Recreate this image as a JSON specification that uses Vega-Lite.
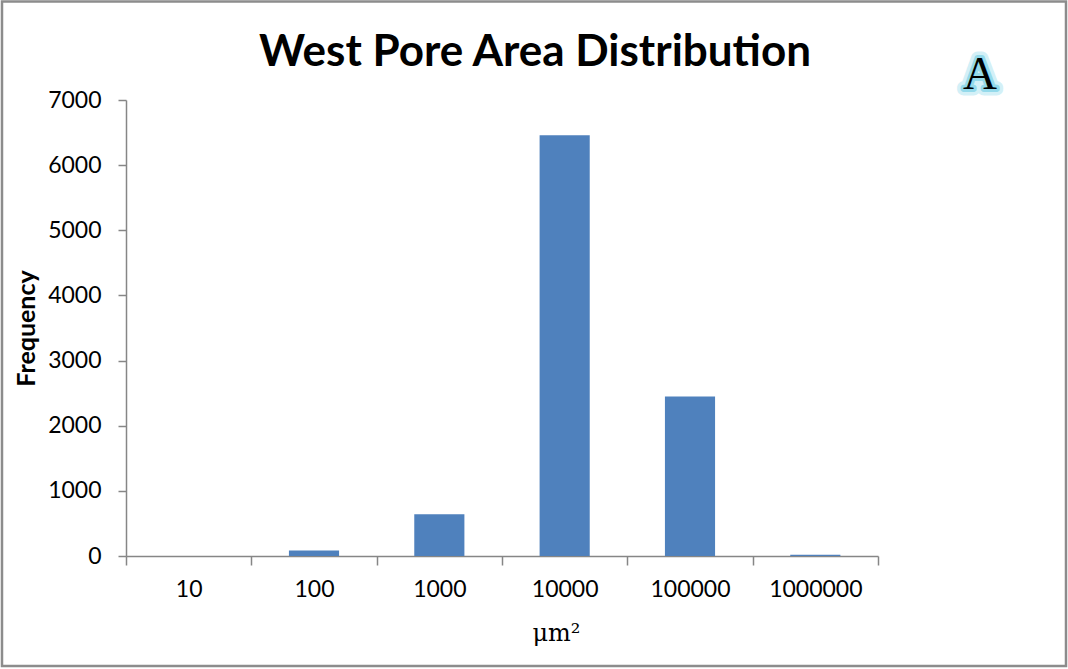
{
  "$schema": "https://vega.github.io/schema/vega-lite/v6.json",
  "width": 752,
  "height": 456,
  "autosize": {"type": "none"},
  "padding": {"left": 126, "top": 100, "right": 190, "bottom": 113},
  "background": "white",
  "config": {
    "view": {"stroke": null},
    "font": "Lato"
  },
  "title": {
    "text": "West Pore Area Distribution",
    "font": "Lato",
    "fontSize": 44,
    "fontWeight": "bold",
    "color": "black",
    "anchor": "middle",
    "baseline": "alphabetic",
    "dx": 33,
    "offset": -110
  },
  "data": {
    "values": [
      {"area": "10", "frequency": 0},
      {"area": "100", "frequency": 85},
      {"area": "1000", "frequency": 640},
      {"area": "10000", "frequency": 6460},
      {"area": "100000", "frequency": 2450},
      {"area": "1000000", "frequency": 20}
    ]
  },
  "layer": [
    {
      "mark": {"type": "bar", "color": "#4f81bd", "width": {"band": 0.4}},
      "encoding": {
        "x": {
          "field": "area",
          "type": "ordinal",
          "sort": null,
          "scale": {"paddingInner": 0, "paddingOuter": 0},
          "axis": {
            "title": "μm²",
            "titleFont": "DejaVu Serif",
            "titleFontSize": 24,
            "titleFontWeight": "normal",
            "titleColor": "black",
            "titleX": 430,
            "titleY": 84,
            "titleAlign": "center",
            "titleBaseline": "alphabetic",
            "labelAngle": 0,
            "labelFont": "Lato",
            "labelFontSize": 23,
            "labelColor": "black",
            "labelPadding": 13,
            "tickBand": "extent",
            "tickSize": 9,
            "tickColor": "#868686",
            "tickWidth": 1.5,
            "domainColor": "#868686",
            "domainWidth": 1.5,
            "grid": false
          }
        },
        "y": {
          "field": "frequency",
          "type": "quantitative",
          "scale": {"domain": [0, 7000], "nice": false},
          "axis": {
            "title": "Frequency",
            "titleFont": "Lato",
            "titleFontSize": 25,
            "titleFontWeight": "bold",
            "titleColor": "black",
            "titleX": -100,
            "titleY": 228,
            "titleAngle": -90,
            "titleAlign": "center",
            "titleBaseline": "middle",
            "values": [0, 1000, 2000, 3000, 4000, 5000, 6000, 7000],
            "format": "d",
            "labelFont": "Lato",
            "labelFontSize": 23,
            "labelColor": "black",
            "labelPadding": 17,
            "tickSize": 8,
            "tickColor": "#868686",
            "tickWidth": 1.5,
            "domainColor": "#868686",
            "domainWidth": 1.5,
            "grid": false
          }
        }
      }
    },
    {
      "data": {"values": [{}]},
      "mark": {"type": "rect", "fill": null, "stroke": "#8c8c8c", "strokeWidth": 2.5},
      "encoding": {
        "x": {"datum": -0.1649, "type": "quantitative", "scale": {"domain": [0, 1], "nice": false, "zero": false}, "axis": null},
        "x2": {"datum": 1.25},
        "y": {"datum": 1.2160, "type": "quantitative", "scale": {"domain": [0, 1], "nice": false, "zero": false}, "axis": null},
        "y2": {"datum": -0.2412}
      }
    },
    {
      "data": {"values": [{"label": "A"}]},
      "mark": {
        "type": "text",
        "font": "Liberation Serif",
        "fontSize": 47,
        "align": "center",
        "baseline": "middle",
        "fill": "#7fd4e8",
        "stroke": "#7fd4e8",
        "strokeWidth": 13,
        "strokeOpacity": 0.35,
        "strokeJoin": "round"
      },
      "encoding": {
        "x": {"datum": 1.1356, "type": "quantitative", "scale": {"domain": [0, 1], "nice": false, "zero": false}, "axis": null},
        "y": {"datum": 1.0548, "type": "quantitative", "scale": {"domain": [0, 1], "nice": false, "zero": false}, "axis": null},
        "text": {"field": "label"}
      }
    },
    {
      "data": {"values": [{"label": "A"}]},
      "mark": {
        "type": "text",
        "font": "Liberation Serif",
        "fontSize": 47,
        "align": "center",
        "baseline": "middle",
        "fill": "#7fd4e8",
        "stroke": "#6ccbe3",
        "strokeWidth": 6,
        "strokeOpacity": 0.6,
        "strokeJoin": "round"
      },
      "encoding": {
        "x": {"datum": 1.1356, "type": "quantitative", "scale": {"domain": [0, 1], "nice": false, "zero": false}, "axis": null},
        "y": {"datum": 1.0548, "type": "quantitative", "scale": {"domain": [0, 1], "nice": false, "zero": false}, "axis": null},
        "text": {"field": "label"}
      }
    },
    {
      "data": {"values": [{"label": "A"}]},
      "mark": {
        "type": "text",
        "font": "Liberation Serif",
        "fontSize": 47,
        "align": "center",
        "baseline": "middle",
        "fill": "black"
      },
      "encoding": {
        "x": {"datum": 1.1356, "type": "quantitative", "scale": {"domain": [0, 1], "nice": false, "zero": false}, "axis": null},
        "y": {"datum": 1.0548, "type": "quantitative", "scale": {"domain": [0, 1], "nice": false, "zero": false}, "axis": null},
        "text": {"field": "label"}
      }
    }
  ],
  "resolve": {"scale": {"x": "independent", "y": "independent"}}
}
